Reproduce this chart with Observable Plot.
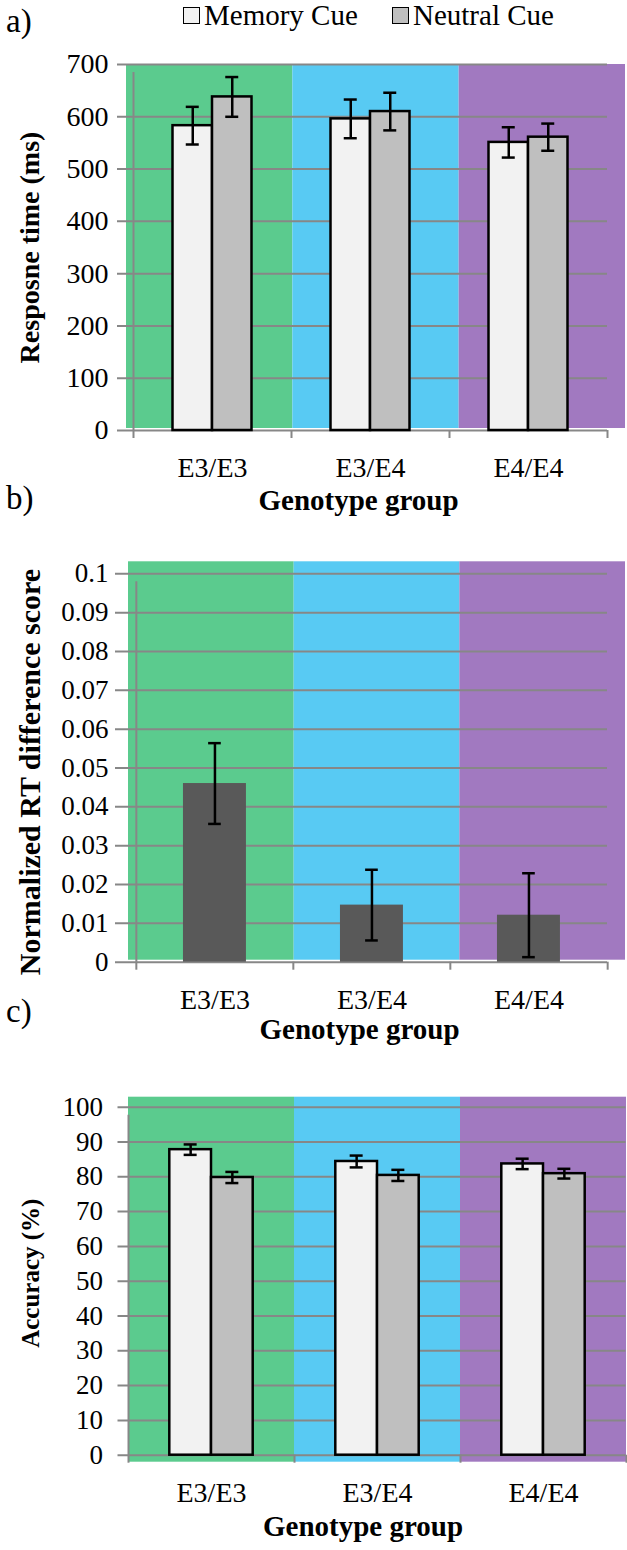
<!DOCTYPE html>
<html><head><meta charset="utf-8">
<script src="https://cdn.jsdelivr.net/npm/d3@7"></script>
<script src="https://cdn.jsdelivr.net/npm/@observablehq/plot@0.6"></script>
<style>
body{margin:0;background:#fff;}
#root{position:relative;width:627px;height:1550px;font-family:"Liberation Serif","DejaVu Serif","Noto Serif","Times New Roman",Times,serif;color:#000;overflow:hidden}
.panel{position:absolute;left:0}
.lab{position:absolute;font-size:33px;line-height:1}
.leg{position:absolute;top:1px;font-size:29px;line-height:1;display:flex;align-items:center;white-space:nowrap}
.sw{display:inline-block;width:15px;height:15px;border:1.5px solid #000;margin-right:4px}
</style></head>
<body><div id="root"></div>
<script>
// ---- data ----
const groups = ["E3/E3", "E3/E4", "E4/E4"];
const seriesNames = ["Memory Cue", "Neutral Cue"];
const rtMemory = [583, 596, 551];
const rtMemoryErr = [36, 37, 29];
const rtNeutral = [638, 610, 561];
const rtNeutralErr = [38, 36, 26];
const diffScore = [0.046, 0.0147, 0.0121];
const diffScoreErr = [0.0104, 0.0091, 0.0108];
const accMemory = [87.8, 84.4, 83.7];
const accMemoryErr = [1.5, 1.7, 1.5];
const accNeutral = [79.8, 80.4, 80.9];
const accNeutralErr = [1.6, 1.6, 1.4];
const rtTicks = [0, 100, 200, 300, 400, 500, 600, 700];
const diffTicks = [0, 0.01, 0.02, 0.03, 0.04, 0.05, 0.06, 0.07, 0.08, 0.09, 0.1];
const accTicks = [0, 10, 20, 30, 40, 50, 60, 70, 80, 90, 100];
const panelLabels = ["a)", "b)", "c)"];
const yTitles = ["Resposne time (ms)", "Normalized RT difference score", "Accuracy (%)"];
const xTitle = "Genotype group";

// ---- styles ----
const FONT = '"Liberation Serif","DejaVu Serif","Noto Serif","Times New Roman",Times,serif';
const bgColors = ["#5bcb8e", "#58caf3", "#a179c0"];
const seriesFill = {"Memory Cue": "#f2f2f2", "Neutral Cue": "#bfbfbf", "Difference": "#595959"};
const gridColor = "#878787";
const W = 627;
const root = document.getElementById("root");

function rows(values, errs, name) {
  return groups.map((g, i) => ({group: g, series: name, value: values[i], err: errs[i]}));
}

function panel(cfg) {
  const {top, height, mTop, mBottom, mLeft, mRight, bg, bgTopExt, bgBottomExt,
         yDomain, yTicks, yTitle, series, barW, stroke, capW, yTickLen, xTickLen,
         yTickPad, xTickPad, yTitleX, yTitleDy, xTitleDy, xTitleDx,
         yTickFont, xTickFont, yTitleFont, xTitleFont} = cfg;
  const axisW = W - mLeft - mRight;
  const bw = axisW / groups.length;
  const bgBw = (bg[1] - bg[0]) / groups.length;
  const marks = [];
  // background bands
  groups.forEach((g, i) => {
    const aL = mLeft + i * bw, aR = aL + bw;
    const bL = bg[0] + i * bgBw, bR = bL + bgBw;
    marks.push(Plot.barY([g], {x: d => d, y1: () => yDomain[0], y2: () => yDomain[1],
      fill: bgColors[i], insetLeft: bL - aL, insetRight: aR - bR,
      insetTop: -bgTopExt, insetBottom: -bgBottomExt}));
  });
  // gridlines
  marks.push(Plot.ruleY(yTicks, {y: d => d, stroke: gridColor, strokeWidth: 2, insetLeft: -yTickLen}));
  // left axis line
  marks.push(Plot.ruleX([groups[0]], {x: d => d, dx: -bw / 2, y1: () => yDomain[0], y2: () => yDomain[1],
    stroke: gridColor, strokeWidth: 2, insetBottom: -xTickLen}));
  // category boundary ticks
  marks.push(Plot.ruleX(groups, {x: d => d, dx: -bw / 2, y1: () => yDomain[0], y2: () => yDomain[0],
    stroke: gridColor, strokeWidth: 2, insetBottom: -xTickLen}));
  marks.push(Plot.ruleX([groups[groups.length - 1]], {x: d => d, dx: bw / 2, y1: () => yDomain[0], y2: () => yDomain[0],
    stroke: gridColor, strokeWidth: 2, insetBottom: -xTickLen}));
  // bars + error bars
  series.forEach(s => {
    const data = rows(s.values, s.errs, s.name);
    const insetLeft = bw / 2 + s.leftRel;
    const insetRight = bw - insetLeft - barW;
    const cx = s.leftRel + barW / 2;
    marks.push(Plot.barY(data, {x: "group", y: "value", fill: seriesFill[s.name],
      stroke: stroke ? "#000" : "none", strokeWidth: 2.5, insetLeft, insetRight}));
    marks.push(Plot.ruleX(data, {x: "group", y1: d => d.value - d.err, y2: d => d.value + d.err,
      dx: cx, stroke: "#000", strokeWidth: 2.5}));
    const capL = bw / 2 + cx - capW / 2, capR = bw / 2 - cx - capW / 2;
    marks.push(Plot.tickY(data, {x: "group", y: d => d.value - d.err, stroke: "#000", strokeWidth: 2.5,
      insetLeft: capL, insetRight: capR}));
    marks.push(Plot.tickY(data, {x: "group", y: d => d.value + d.err, stroke: "#000", strokeWidth: 2.5,
      insetLeft: capL, insetRight: capR}));
  });
  // axes
  marks.push(Plot.axisX({tickSize: 0, tickPadding: xTickPad, fontSize: xTickFont, label: null}));
  marks.push(Plot.axisY({ticks: yTicks, tickSize: 0, tickPadding: yTickPad, fontSize: yTickFont, label: null,
    tickFormat: d => String(d)}));
  // titles
  marks.push(Plot.text([yTitle], {text: d => d, frameAnchor: "left", rotate: -90, textAnchor: "middle",
    dx: yTitleX - mLeft, dy: yTitleDy, fontWeight: "bold", fontSize: yTitleFont, fill: "#000"}));
  marks.push(Plot.text([xTitle], {text: d => d, frameAnchor: "bottom", textAnchor: "middle", dy: xTitleDy, dx: xTitleDx,
    fontWeight: "bold", fontSize: xTitleFont, fill: "#000"}));

  const svg = Plot.plot({
    width: W, height,
    marginTop: mTop, marginBottom: mBottom, marginLeft: mLeft, marginRight: mRight,
    x: {domain: groups, padding: 0},
    y: {domain: yDomain},
    style: {fontFamily: FONT, background: "transparent", color: "#000", overflow: "visible"},
    marks
  });
  svg.classList.add("panel");
  svg.style.top = top + "px";
  root.appendChild(svg);
}

// Panel a
panel({top: 40, height: 490, mTop: 24, mBottom: 100, mLeft: 133, mRight: 20,
  bg: [126, 625], bgTopExt: 0, bgBottomExt: -2,
  yDomain: [0, 700], yTicks: rtTicks, yTitle: yTitles[0],
  series: [
    {name: seriesNames[0], values: rtMemory, errs: rtMemoryErr, leftRel: -39.5},
    {name: seriesNames[1], values: rtNeutral, errs: rtNeutralErr, leftRel: 0}
  ], barW: 39.5, stroke: true, capW: 13, yTickLen: 16, xTickLen: 8,
  yTickPad: 25, xTickPad: 27, yTitleX: 30, yTitleDy: 0, xTitleDy: 79, xTitleDx: -12,
  yTickFont: 28, xTickFont: 28, yTitleFont: 28, xTitleFont: 29});

// Panel b
panel({top: 540, height: 520, mTop: 33.3, mBottom: 98.3, mLeft: 135, mRight: 20,
  bg: [127, 625], bgTopExt: 12, bgBottomExt: -2,
  yDomain: [0, 0.1], yTicks: diffTicks, yTitle: yTitles[1],
  series: [
    {name: "Difference", values: diffScore, errs: diffScoreErr, leftRel: -31.7}
  ], barW: 63.3, stroke: false, capW: 13, yTickLen: 20, xTickLen: 8,
  yTickPad: 27, xTickPad: 27, yTitleX: 30, yTitleDy: 4, xTitleDy: 77, xTitleDx: -12,
  yTickFont: 27, xTickFont: 28, yTitleFont: 30, xTitleFont: 29});

// Panel c
panel({top: 1070, height: 480, mTop: 36.7, mBottom: 95.3, mLeft: 127.5, mRight: 1.5,
  bg: [127.5, 625.5], bgTopExt: 10, bgBottomExt: 7,
  yDomain: [0, 100], yTicks: accTicks, yTitle: yTitles[2],
  series: [
    {name: seriesNames[0], values: accMemory, errs: accMemoryErr, leftRel: -41.7},
    {name: seriesNames[1], values: accNeutral, errs: accNeutralErr, leftRel: 0}
  ], barW: 41.7, stroke: true, capW: 13, yTickLen: 10, xTickLen: 8,
  yTickPad: 25, xTickPad: 27, yTitleX: 30, yTitleDy: -8, xTitleDy: 81, xTitleDx: -14,
  yTickFont: 27, xTickFont: 28, yTitleFont: 25, xTitleFont: 29});

// panel labels
[[22, 0], [499, 1], [1012, 2]].forEach(([cy, i]) => {
  const d = document.createElement("div");
  d.className = "lab";
  d.textContent = panelLabels[i];
  d.style.left = "6px";
  d.style.top = (cy - 17) + "px";
  root.appendChild(d);
});

// legend
[[183, 0], [392, 1]].forEach(([x, i]) => {
  const d = document.createElement("div");
  d.className = "leg";
  d.style.left = x + "px";
  const sw = document.createElement("span");
  sw.className = "sw";
  sw.style.background = seriesFill[seriesNames[i]];
  d.appendChild(sw);
  d.appendChild(document.createTextNode(seriesNames[i]));
  root.appendChild(d);
});
</script>
</body></html>
